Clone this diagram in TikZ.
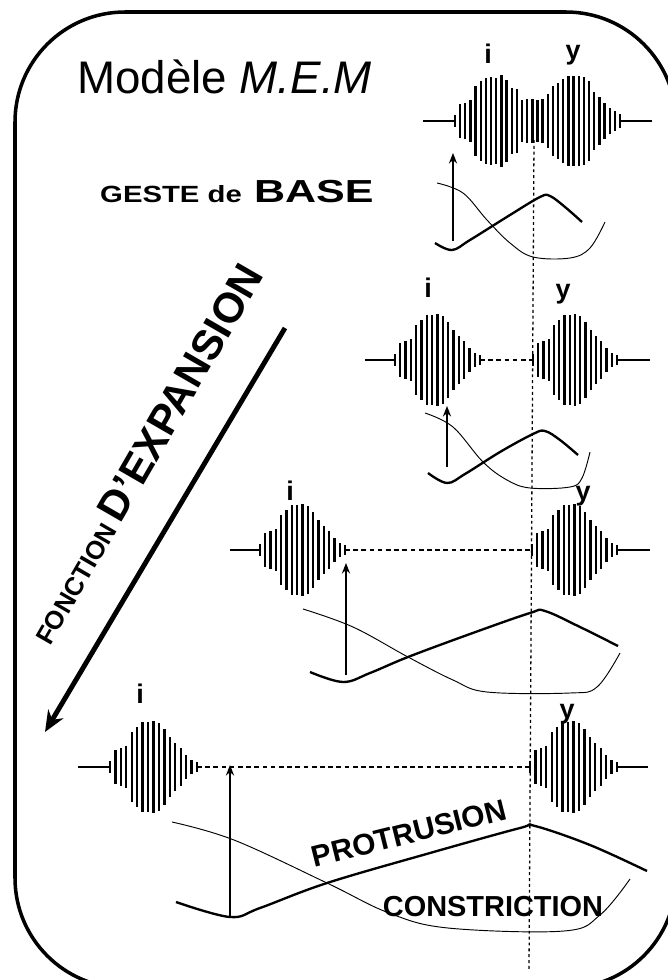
\documentclass[tikz,border=0pt]{standalone}
\usepackage{fontspec}
\usepackage{graphicx}
\setmainfont{Liberation Sans}
\usetikzlibrary{arrows.meta}

% one burst of the signal: x start, x end, baseline
\newcommand{\burstat}[3]{%
  \foreach \a [count=\k from 0] in {6,17,19,21,35,40,45,45,46,44,38,30,24,19,12,7,5}
    \draw[burstline] ({#1+(#2-#1)*\k/16},{#3-\a}) -- ++(0,{2*\a});
}

\begin{document}
\begin{tikzpicture}[x=0.03cm, y=-0.03cm,
    frame/.style={line width=3pt},
    stub/.style={line width=1.3pt},
    burstline/.style={line width=2pt},
    gap/.style={line width=1.5pt, dash pattern=on 4pt off 3pt},
    guide/.style={line width=1.1pt, dash pattern=on 2.5pt off 2.5pt},
    protr/.style={line width=2pt, line join=round},
    constr/.style={line width=0.8pt},
    onset/.style={line width=1pt, -{Stealth[length=9pt, width=7pt]}},
    lab/.style={font=\fontsize{23}{23}\selectfont\bfseries, inner sep=0pt, anchor=base}]
    \useasboundingbox (0,0) rectangle (667,980);

    % Frame
    \draw[frame, rounded corners=3.3cm] (15,500) -- (15,12) -- (676,12) -- (676,988) -- (15,988) -- cycle;

    % Titles
    \node[anchor=base west, inner sep=0pt, font=\fontsize{39}{39}\selectfont] (title) at (77,93) {Modèle \textit{M.E.M}};
    \node[anchor=base west, inner sep=0pt, font=\fontsize{20}{20}\selectfont\bfseries] (geste) at (100,202) {\scalebox{1.25}[1]{GESTE de}};
    \node[anchor=base west, inner sep=0pt, font=\fontsize{27.2}{27}\selectfont\bfseries] (base) at ([xshift=10pt]geste.base east) {\scalebox{1.35}[1]{BASE}};

    % Expansion arrow
    \coordinate (expstart) at (285,328);
    \coordinate (expend) at (45,732);
    \draw[line width=4.2pt, -{Stealth[length=18pt, width=15pt]}] (expstart) -- (expend);
    \node[rotate=60, anchor=base west, inner sep=0pt, font=\bfseries] (expansion) at (50,647)
        {\fontsize{22}{22}\selectfont FONCTION \fontsize{36}{36}\selectfont D'EXPANSION};

    % Common time line
    \coordinate (gtop) at (534,140);
    \coordinate (gbot) at (529,970);
    \draw[guide] (gtop) -- (gbot);

    % Row 1: base gesture
    \node[lab] (i1) at (488,63) {i};
    \node[lab] (y1) at (573,59) {y};
    \draw[stub] (423,121) -- (455,121);
    \foreach \a [count=\k from 0] in {6,17,18,21,35,40,43,44,43,46,41,33,32,21,22,22,21,22,27,35,38,42,45,45,45,44,40,29,24,18,13,10,7}
        \draw[burstline] ({455+165*\k/32},{121-\a}) -- ++(0,{2*\a});
    \draw[stub] (620,121) -- (652,121);
    \coordinate (on1a) at (453,241);
    \coordinate (on1b) at (453,153);
    \draw[onset] (on1a) -- (on1b);
    \draw[protr] plot[smooth, tension=0.6] coordinates {(435,243) (452,250) (470,240) (510,215) (540,197) (550,196) (565,207) (582,222)};
    \draw[constr] plot[smooth, tension=0.6] coordinates {(437,183) (463,193) (487,220) (510,243) (533,257) (570,258) (590,248) (605,222)};

    % Row 2
    \node[lab] (i2) at (428,297) {i};
    \node[lab] (y2) at (563,298) {y};
    \draw[stub] (365,360) -- (395,360);
    \burstat{395}{480}{360}
    \coordinate (g2a) at (480,360);
    \coordinate (g2b) at (533,360);
    \draw[gap] (g2a) -- (g2b);
    \burstat{533}{617}{360}
    \draw[stub] (617,360) -- (650,360);
    \coordinate (on2a) at (447,467);
    \coordinate (on2b) at (447,406);
    \draw[onset] (on2a) -- (on2b);
    \draw[protr] plot[smooth, tension=0.6] coordinates {(428,473) (447,483) (465,474) (500,452) (533,434) (545,431) (560,440) (578,455)};
    \draw[constr] plot[smooth, tension=0.6] coordinates {(425,413) (453,427) (483,462) (507,480) (530,488) (570,487) (582,478) (590,452)};

    % Row 3
    \node[lab] (i3) at (290,500) {i};
    \node[lab] (y3) at (583,500) {y};
    \draw[stub] (230,550) -- (260,550);
    \burstat{260}{345}{550}
    \coordinate (g3a) at (345,550);
    \coordinate (g3b) at (532,550);
    \draw[gap] (g3a) -- (g3b);
    \burstat{532}{617}{550}
    \draw[stub] (617,550) -- (650,550);
    \coordinate (on3a) at (346,675);
    \coordinate (on3b) at (346,563);
    \draw[onset] (on3a) -- (on3b);
    \draw[protr] plot[smooth, tension=0.6] coordinates {(310,672) (343,682) (370,673) (408,657) (470,634) (530,613) (545,611) (580,627) (618,646)};
    \draw[constr] plot[smooth, tension=0.6] coordinates {(303,609) (353,627) (408,657) (453,680) (487,692) (570,693) (597,687) (620,653)};

    % Row 4
    \node[lab] (i4) at (140,703) {i};
    \node[lab] (y4) at (567,718) {y};
    \draw[stub] (78,767) -- (110,767);
    \burstat{110}{197}{767}
    \coordinate (g4a) at (197,767);
    \coordinate (g4b) at (530,767);
    \draw[gap] (g4a) -- (g4b);
    \burstat{530}{617}{767}
    \draw[stub] (617,767) -- (648,767);
    \coordinate (on4a) at (230,917);
    \coordinate (on4b) at (230,765);
    \draw[onset] (on4a) -- (on4b);
    \draw[protr] plot[smooth, tension=0.6] coordinates {(176,902) (230,917) (260,908) (327,883) (430,853) (520,828) (535,826) (590,845) (647,871)};
    \draw[constr] plot[smooth, tension=0.6] coordinates {(172,822) (234,840) (327,883) (389,913) (448,928) (564,931) (600,915) (630,879)};
    \node[rotate=14, inner sep=0pt, font=\fontsize{25.5}{26}\selectfont\bfseries] (protrusion) at (409,833) {PROTRUSION};
    \node[inner sep=0pt, font=\fontsize{24.7}{25}\selectfont\bfseries] (constriction) at (493,907) {CONSTRICTION};
\end{tikzpicture}
\end{document}
